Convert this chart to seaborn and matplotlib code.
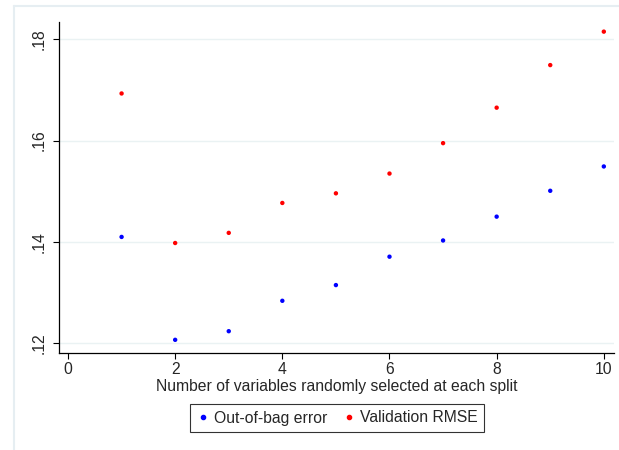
import matplotlib
matplotlib.use("Agg")
import matplotlib.pyplot as plt
import seaborn as sns
import pandas as pd
from matplotlib.lines import Line2D
from matplotlib.ticker import FuncFormatter

mtry = [1, 2, 3, 4, 5, 6, 7, 8, 9, 10]
oob_error = [0.1410, 0.1207, 0.1224, 0.1284, 0.1315, 0.1371, 0.1403, 0.1450, 0.1501, 0.1549]
val_rmse = [0.1693, 0.1398, 0.1418, 0.1477, 0.1496, 0.1535, 0.1595, 0.1665, 0.1749, 0.1815]
series_names = ["Out-of-bag error", "Validation RMSE"]
x_ticks = [0, 2, 4, 6, 8, 10]
y_ticks = [0.12, 0.14, 0.16, 0.18]
x_label = "Number of variables randomly selected at each split"

df = pd.DataFrame({
    "mtry": mtry * 2,
    "value": oob_error + val_rmse,
    "series": [series_names[0]] * len(mtry) + [series_names[1]] * len(mtry),
})

sns.set_style("white")
plt.rcParams["font.family"] = ["Liberation Sans", "DejaVu Sans"]

fig = plt.figure(figsize=(6.19, 4.5), dpi=100)
ax = fig.add_axes([59 / 619, 1 - 353 / 450, (614 - 59) / 619, (353 - 22) / 450])

sns.scatterplot(data=df, x="mtry", y="value", hue="series",
                palette={series_names[0]: "#0000ff", series_names[1]: "#ff0000"},
                s=10, linewidth=0, ax=ax, legend=False, zorder=3)

ax.set_xlim(-0.168, 10.19)
ax.set_ylim(0.1181, 0.1834)
ax.set_xticks(x_ticks)
ax.set_yticks(y_ticks)
ax.yaxis.set_major_formatter(FuncFormatter(lambda v, p: ("%.2f" % v).lstrip("0")))
for lab in ax.get_yticklabels():
    lab.set_rotation(90)
    lab.set_va("center")
ax.tick_params(axis="both", which="major", direction="out", length=4.3, width=0.8,
               color="black", labelsize=11.3, pad=2.5, left=True, bottom=True)
ax.tick_params(axis="y", pad=4.5)
ax.grid(axis="y", color="#eaf2f3", linewidth=1.0, zorder=0)
ax.grid(axis="x", visible=False)
for side in ["top", "right"]:
    ax.spines[side].set_visible(False)
for side in ["left", "bottom"]:
    ax.spines[side].set_color("black")
    ax.spines[side].set_linewidth(0.9)
ax.set_xlabel(x_label, fontsize=11.3, labelpad=1)
ax.set_ylabel("")

handles = [Line2D([], [], marker="o", linestyle="", color=c, markersize=3)
           for c in ["#0000ff", "#ff0000"]]
leg = fig.legend(handles, series_names, loc="center", ncol=2,
                 bbox_to_anchor=(337 / 619, 1 - 418 / 450), fontsize=11.3,
                 frameon=True, fancybox=False, handletextpad=0.25, columnspacing=0.9,
                 handlelength=0.9, borderpad=0.4, borderaxespad=0.0)
leg.get_frame().set_edgecolor("black")
leg.get_frame().set_linewidth(0.8)

# outer graph-region frame
fig.add_artist(Line2D([14 / 619, 14 / 619], [0, 1 - 6 / 450], transform=fig.transFigure,
                      color="#e6eef2", linewidth=1.5))
fig.add_artist(Line2D([14 / 619, 1], [1 - 6 / 450, 1 - 6 / 450], transform=fig.transFigure,
                      color="#e6eef2", linewidth=1.5))

fig.savefig("out.png", dpi=100)
